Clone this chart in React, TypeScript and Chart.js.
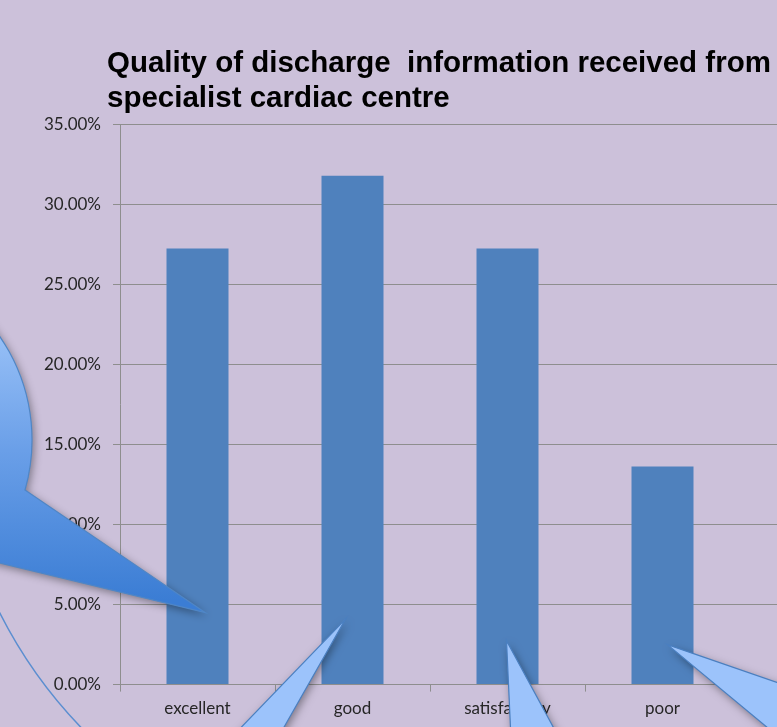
import React, { useEffect, useRef } from 'react';
import { Chart, registerables } from 'chart.js';

Chart.register(...registerables);

// ---- data ----
const CATEGORIES = ['excellent', 'good', 'satisfactory', 'poor', ''];
const VALUES: (number | null)[] = [27.27, 31.82, 27.27, 13.64, null];
const TITLE_LINES = ['Quality of discharge  information received from', 'specialist cardiac centre'];
const Y_MIN = 0;
const Y_MAX = 35;
const Y_STEP = 5;
// value level (in %) that each callout pointer touches on its bar
const CALLOUT_TIP_VALUES = [4.5, 4.1, 2.75, 2.5];

const BG = '#ccc1da';
const BAR = '#4f81bd';
const GRID = '#8e8e8e';
const TEXT = '#262626';

const deg = (d: number) => (d * Math.PI) / 180;

// let the narrow y axis draw its labels to the left of its box
const yLabelRoom = {
  id: 'yLabelRoom',
  afterLayout(chart: any) {
    chart.scales.y.left = 0;
  },
};

const calloutPlugin = {
  id: 'callouts',
  afterDraw(chart: any) {
    const { ctx, chartArea } = chart;
    const ys = chart.scales.y;
    const meta = chart.getDatasetMeta(0);
    const L = chartArea.left;
    const tip = (i: number, dx: number) => ({
      x: meta.data[i].x + dx,
      y: ys.getPixelForValue(CALLOUT_TIP_VALUES[i]),
    });
    ctx.save();

    // lower-left outline arc
    ctx.strokeStyle = '#5b8ed0';
    ctx.lineWidth = 1.5;
    ctx.beginPath();
    ctx.arc(L + 305, ys.getPixelForValue(18.0), 477, deg(128), deg(156));
    ctx.stroke();

    // big left bubble (circle + pointer)
    const cx = L - 270;
    const cy = ys.getPixelForValue(15.3);
    const r = 182;
    const T = tip(0, 8);
    const a1 = Math.atan2(50, 175);
    const P1 = { x: cx + r * Math.cos(a1), y: cy + r * Math.sin(a1) };
    const Q = { x: L - 120, y: ys.getPixelForValue(7.6) };
    const d = { x: Q.x - T.x, y: Q.y - T.y };
    const fx = T.x - cx;
    const fy = T.y - cy;
    const A = d.x * d.x + d.y * d.y;
    const B = 2 * (fx * d.x + fy * d.y);
    const Cc = fx * fx + fy * fy - r * r;
    const disc = Math.sqrt(Math.max(0, B * B - 4 * A * Cc));
    const t = (-B - disc) / (2 * A);
    const P2 = { x: T.x + t * d.x, y: T.y + t * d.y };
    const a2 = Math.atan2(P2.y - cy, P2.x - cx);
    const grad = ctx.createLinearGradient(0, ys.getPixelForValue(24), 0, ys.getPixelForValue(5.3));
    grad.addColorStop(0, '#a4c9fb');
    grad.addColorStop(0.5, '#6a9fe8');
    grad.addColorStop(1, '#3b7dd4');
    ctx.beginPath();
    ctx.moveTo(T.x, T.y);
    ctx.lineTo(P1.x, P1.y);
    ctx.arc(cx, cy, r, a1, a2, true);
    ctx.closePath();
    ctx.shadowColor = 'rgba(0,0,0,0.4)';
    ctx.shadowBlur = 8;
    ctx.shadowOffsetX = 2;
    ctx.shadowOffsetY = 3;
    ctx.fillStyle = grad;
    ctx.fill();
    ctx.shadowColor = 'transparent';
    ctx.strokeStyle = '#4f86c6';
    ctx.lineWidth = 1.2;
    ctx.stroke();

    // bottom pointers
    const pointers = [
      { i: 1, dx: -7, v1: [-105, 109], v2: [-62, 109] },
      { i: 2, dx: -1, v1: [4, 87], v2: [47, 87] },
      { i: 3, dx: 5, v1: [110, 38], v2: [100, 83] },
    ];
    const k = 1.6;
    for (const p of pointers) {
      const tp = tip(p.i, p.dx);
      ctx.beginPath();
      ctx.moveTo(tp.x, tp.y);
      ctx.lineTo(tp.x + p.v1[0] * k, tp.y + p.v1[1] * k);
      ctx.lineTo(tp.x + p.v2[0] * k, tp.y + p.v2[1] * k);
      ctx.closePath();
      ctx.shadowColor = 'rgba(0,0,0,0.4)';
      ctx.shadowBlur = 8;
      ctx.shadowOffsetX = 2;
      ctx.shadowOffsetY = 3;
      ctx.fillStyle = '#9cc3fb';
      ctx.fill();
      ctx.shadowColor = 'transparent';
      ctx.strokeStyle = '#4a7fc0';
      ctx.lineWidth = 1.2;
      ctx.stroke();
    }
    ctx.restore();
  },
};

export default function App() {
  const ref = useRef<HTMLCanvasElement | null>(null);
  useEffect(() => {
    if (!ref.current) return;
    const chart = new Chart(ref.current, {
      type: 'bar',
      data: {
        labels: CATEGORIES,
        datasets: [
          {
            data: VALUES as any,
            backgroundColor: BAR,
            barPercentage: 0.4,
            categoryPercentage: 1,
          },
        ],
      },
      options: {
        animation: false,
        responsive: false,
        layout: { padding: { left: 107, right: 20, top: 0, bottom: 1 } },
        plugins: {
          legend: { display: false },
          tooltip: { enabled: false },
          title: {
            display: true,
            text: TITLE_LINES,
            align: 'start',
            color: '#000',
            font: { family: 'Liberation Sans', size: 29.5, weight: 'bold', lineHeight: 1.186 },
            padding: { top: 46.5, bottom: 8.5 },
          },
        },
        scales: {
          x: {
            grid: { display: true, drawOnChartArea: false, tickLength: 7, color: GRID, offset: true },
            border: { color: GRID },
            ticks: {
              color: TEXT,
              font: { family: 'Lato', size: 17 },
              padding: 7,
              maxRotation: 0,
              autoSkip: false,
            },
          },
          y: {
            min: Y_MIN,
            max: Y_MAX,
            grid: { color: GRID, tickLength: 7 },
            border: { color: GRID },
            ticks: {
              stepSize: Y_STEP,
              color: TEXT,
              font: { family: 'Lato', size: 17 },
              padding: 12,
              callback: (v: any) => Number(v).toFixed(2) + '%',
            },
            afterFit: (s: any) => {
              s.width = 13;
            },
          },
        },
      },
      plugins: [yLabelRoom, calloutPlugin],
    });
    return () => chart.destroy();
  }, []);
  return (
    <div
      style={{
        position: 'fixed',
        left: 0,
        top: 0,
        width: 777,
        height: 727,
        overflow: 'hidden',
        background: BG,
      }}
    >
      <canvas ref={ref} width={915} height={727} style={{ display: 'block', width: 915, height: 727 }} />
    </div>
  );
}
